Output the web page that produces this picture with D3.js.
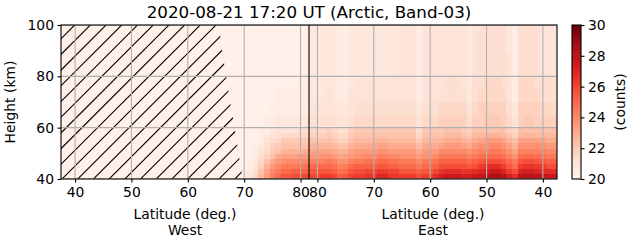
<!DOCTYPE html>
<html><head><meta charset="utf-8">
<script src="https://cdn.jsdelivr.net/npm/d3@7"></script>
<style>body{margin:0;background:#fff} svg text{font-family:"DejaVu Sans",sans-serif;fill:#000}</style>
</head><body><svg id="c" width="631" height="243"></svg>
<script>
// ---------------- data ----------------
const title = "2020-08-21 17:20 UT (Arctic, Band-03)";
const westTicks = [40, 50, 60, 70, 80];
const eastTicks = [80, 70, 60, 50, 40];
const heightTicks = [40, 60, 80, 100];
const colorTicks = [20, 22, 24, 26, 28, 30];
const latMin = 37.5;      // latitude at both ends of the track
const poleLat = 81.5;     // highest latitude of the track (turning point)
const binWidth = 1;       // degrees of track per column
const rowEdges = [40, 42, 44, 46, 48, 50, 52, 54, 56, 58, 60, 65, 70, 75, 80, 85, 90, 95, 100];
const firstDataBin = 28;  // bins before this are masked (hatched)
// level characters: value = 20 + index/4  (counts)
const levelChars = "0123456789ABCDEFGHIJKLMNOPQRSTUVWXYZ";
// one string per column (track bin), characters from bottom row (40 km) up to top row (100 km)
const profiles = [
  "111111111111111111", // W 66
  "111111111111111111", // W 67
  "211111111111111111", // W 68
  "211111111111111111", // W 69
  "321111111111111111", // W 70
  "432211111111111111", // W 71
  "654322211111111111", // W 72
  "A97654322211111111", // W 73
  "EDB976543221111111", // W 74
  "HGEC98754322111111", // W 75
  "KIGEC9865432211111", // W 76
  "MKIFDB986432211111", // W 77
  "MKIGDB986432211111", // W 78
  "NLIGDB986432211111", // W 79
  "NLJGEB986532221111", // W 80
  "OLJGEC986532221111", // W 81
  "OMKHEDB97654333333", // E 81
  "OMKHEDB97654333333", // E 80
  "PMKHFDB97654333333", // E 79
  "PMKIFDB98754433333", // E 78
  "OLJHECA87654333333", // E 77
  "LJHFDB976543222222", // E 76
  "MKIFDB976543222222", // E 75
  "OMKHEDB98754433333", // E 74
  "PNLIFECA9865443333", // E 73
  "PNLIFECA9865443333", // E 72
  "QOLJGECA9865443333", // E 71
  "QOLJGECA9865443333", // E 70
  "SPMKHFDB9865443333", // E 69
  "SPMKHFDB9865443333", // E 68
  "QOLJGECA9865443333", // E 67
  "POLJGECA9865443333", // E 66
  "PMKIFECA9865444444", // E 65
  "PMKIFECA9865444444", // E 64
  "PMKIFECA9865444444", // E 63
  "NLIGECA86543222222", // E 62
  "PMKIFECA9865444444", // E 61
  "PMKIFECA9865444444", // E 60
  "ROLJGECA9865444444", // E 59
  "TQNLIGDB9876544444", // E 58
  "URNLIGECA976554444", // E 57
  "URNLIGECA976554444", // E 56
  "URNLIGECA976554444", // E 55
  "TQNLIGDB9876544444", // E 54
  "TQMKHFCA8754333333", // E 53
  "URNLIGECA976554444", // E 52
  "VSPMJHFDA977655555", // E 51
  "XTQNKHFDB987665555", // E 50
  "YURNKIGEB987665555", // E 49
  "YURNKIGEB987665555", // E 48
  "WSPMJHFDA977655555", // E 47
  "TPMKHFDB9765444433", // E 46
  "RNKIFDB97643222222", // E 45
  "WSPMJHFDA977665555", // E 44
  "XTQNKHFDB987665555", // E 43
  "XTQNKHFDB987665555", // E 42
  "WSPMJHFDA977655555", // E 41
  "VRPMJHFDA976554444", // E 40
  "URNLIGECA976554444", // E 39
  "URNLIGECA976554444"  // E 38
];
// boundary of the masked (hatched) region on the West side: [height km, latitude]
const maskEdge = [[100, 65.5], [90, 66.1], [80, 66.8], [70, 67.5], [60, 68.3], [50, 69.0], [42, 69.6], [40, 70.4]];
const redsStops = ["#fff5f0","#fee0d2","#fcbba1","#fc9272","#fb6a4a","#ef3b2c","#cb181d","#a50f15","#67000d"];

// ---------------- drawing ----------------
const svg = d3.select("#c");
const M = {l: 61, r: 557, t: 25, b: 179};
const trackLen = 2 * (poleLat - latMin);
const x = d3.scaleLinear().domain([0, trackLen]).range([M.l, M.r]);
const y = d3.scaleLinear().domain([40, 100]).range([M.b, M.t]);
const westT = lat => lat - latMin;
const eastT = lat => (poleLat - latMin) + (poleLat - lat);
const color = d3.scaleLinear()
  .domain(redsStops.map((_, i) => 20 + i * 10 / (redsStops.length - 1)))
  .range(redsStops).clamp(true);
const FS = 13.9;

svg.append("defs").append("clipPath").attr("id", "plotclip")
  .append("rect").attr("x", M.l).attr("y", M.t).attr("width", M.r - M.l).attr("height", M.b - M.t);

const plot = svg.append("g").attr("clip-path", "url(#plotclip)");
plot.append("rect").attr("x", M.l).attr("y", M.t).attr("width", M.r - M.l).attr("height", M.b - M.t)
  .attr("fill", color(20.25));

// cells
const cells = [];
profiles.forEach((p, j) => {
  const bin = firstDataBin + j;
  for (let k = 0; k < p.length; k++) {
    cells.push({bin, lo: rowEdges[k], hi: rowEdges[k + 1], v: 20 + levelChars.indexOf(p[k]) / 4});
  }
});
plot.append("g").selectAll("rect").data(cells).join("rect")
  .attr("x", d => x(d.bin * binWidth))
  .attr("width", d => x((d.bin + 1) * binWidth) - x(d.bin * binWidth) + 0.3)
  .attr("y", d => y(d.hi))
  .attr("height", d => y(d.lo) - y(d.hi) + 0.3)
  .attr("fill", d => color(d.v))
  .attr("shape-rendering", "crispEdges");

// mask polygon with hatching
const maskPts = [[x(0), y(100)]].concat(maskEdge.map(([h, lat]) => [x(westT(lat)), y(h)])).concat([[x(0), y(40)]]);
svg.select("defs").append("clipPath").attr("id", "maskclip")
  .append("path").attr("d", d3.line()(maskPts) + "Z");
const mask = plot.append("g").attr("clip-path", "url(#maskclip)");
mask.append("path").attr("d", d3.line()(maskPts) + "Z").attr("fill", color(20.3));
const sp = 15.7;
const c0 = 62 + M.b;
for (let k = -14; k < 30; k++) {
  const c = c0 + k * sp;
  mask.append("line")
    .attr("x1", c - M.b - 2).attr("y1", M.b + 2)
    .attr("x2", c - M.t + 2).attr("y2", M.t - 2)
    .attr("stroke", "#000").attr("stroke-width", 1.1);
}

// grid
const xTickPos = westTicks.map(westT).concat(eastTicks.map(eastT));
plot.append("g").selectAll("line").data(xTickPos).join("line")
  .attr("x1", d => x(d)).attr("x2", d => x(d)).attr("y1", M.t).attr("y2", M.b)
  .attr("stroke", "#b0b0b0").attr("stroke-width", 1.1);
plot.append("g").selectAll("line").data(heightTicks).join("line")
  .attr("y1", d => y(d)).attr("y2", d => y(d)).attr("x1", M.l).attr("x2", M.r)
  .attr("stroke", "#b0b0b0").attr("stroke-width", 1.1);

// pole line
plot.append("line").attr("x1", x(poleLat - latMin)).attr("x2", x(poleLat - latMin))
  .attr("y1", M.t).attr("y2", M.b).attr("stroke", "#000").attr("stroke-width", 1.1);

// frame
svg.append("rect").attr("x", M.l).attr("y", M.t).attr("width", M.r - M.l).attr("height", M.b - M.t)
  .attr("fill", "none").attr("stroke", "#000").attr("stroke-width", 1.1);

function styleAxis(g) {
  g.select(".domain").remove();
  g.selectAll(".tick line").attr("stroke", "#000").attr("stroke-width", 1.1);
  g.selectAll(".tick text").attr("font-size", FS).attr("font-family", "DejaVu Sans").attr("fill", "#000");
  g.attr("font-family", null).attr("font-size", null);
}
// x axes (west and east halves of the track)
svg.append("g").attr("transform", `translate(0,${M.b})`)
  .call(d3.axisBottom(x).tickValues(westTicks.map(westT)).tickFormat(t => d3.format("d")(t + latMin))
    .tickSize(3.5).tickPadding(4.5)).call(styleAxis);
svg.append("g").attr("transform", `translate(0,${M.b})`)
  .call(d3.axisBottom(x).tickValues(eastTicks.map(eastT)).tickFormat(t => d3.format("d")(2 * poleLat - latMin - t))
    .tickSize(3.5).tickPadding(4.5)).call(styleAxis);
// y axis
svg.append("g").attr("transform", `translate(${M.l},0)`)
  .call(d3.axisLeft(y).tickValues(heightTicks).tickSize(3.5).tickPadding(3.5)).call(styleAxis);

// labels
const midW = (x(0) + x(poleLat - latMin)) / 2, midE = (x(poleLat - latMin) + x(trackLen)) / 2;
[[midW, "West"], [midE, "East"]].forEach(([cx, side]) => {
  svg.append("text").attr("x", cx).attr("y", 219).attr("text-anchor", "middle").attr("font-size", FS).text("Latitude (deg.)");
  svg.append("text").attr("x", cx).attr("y", 235).attr("text-anchor", "middle").attr("font-size", FS).text(side);
});
svg.append("text").attr("transform", `translate(15,${(M.t + M.b) / 2}) rotate(-90)`)
  .attr("text-anchor", "middle").attr("font-size", FS).text("Height (km)");
svg.append("text").attr("x", (M.l + M.r) / 2).attr("y", 18).attr("text-anchor", "middle")
  .attr("font-size", 16.7).text(title);

// colorbar
const cbX = 572, cbW = 9;
const cy = d3.scaleLinear().domain([20, 30]).range([M.b, M.t]);
const grad = svg.select("defs").append("linearGradient").attr("id", "cbgrad")
  .attr("x1", 0).attr("y1", 1).attr("x2", 0).attr("y2", 0);
redsStops.forEach((c, i) => grad.append("stop").attr("offset", i / (redsStops.length - 1)).attr("stop-color", c));
svg.append("rect").attr("x", cbX).attr("y", M.t).attr("width", cbW).attr("height", M.b - M.t)
  .attr("fill", "url(#cbgrad)").attr("stroke", "#000").attr("stroke-width", 1.1);
svg.append("g").attr("transform", `translate(${cbX + cbW},0)`)
  .call(d3.axisRight(cy).tickValues(colorTicks).tickSize(3.5).tickPadding(3.5)).call(styleAxis);
svg.append("text").attr("transform", `translate(625,${(M.t + M.b) / 2}) rotate(-90)`)
  .attr("text-anchor", "middle").attr("font-size", FS).text("(counts)");
</script></body></html>
